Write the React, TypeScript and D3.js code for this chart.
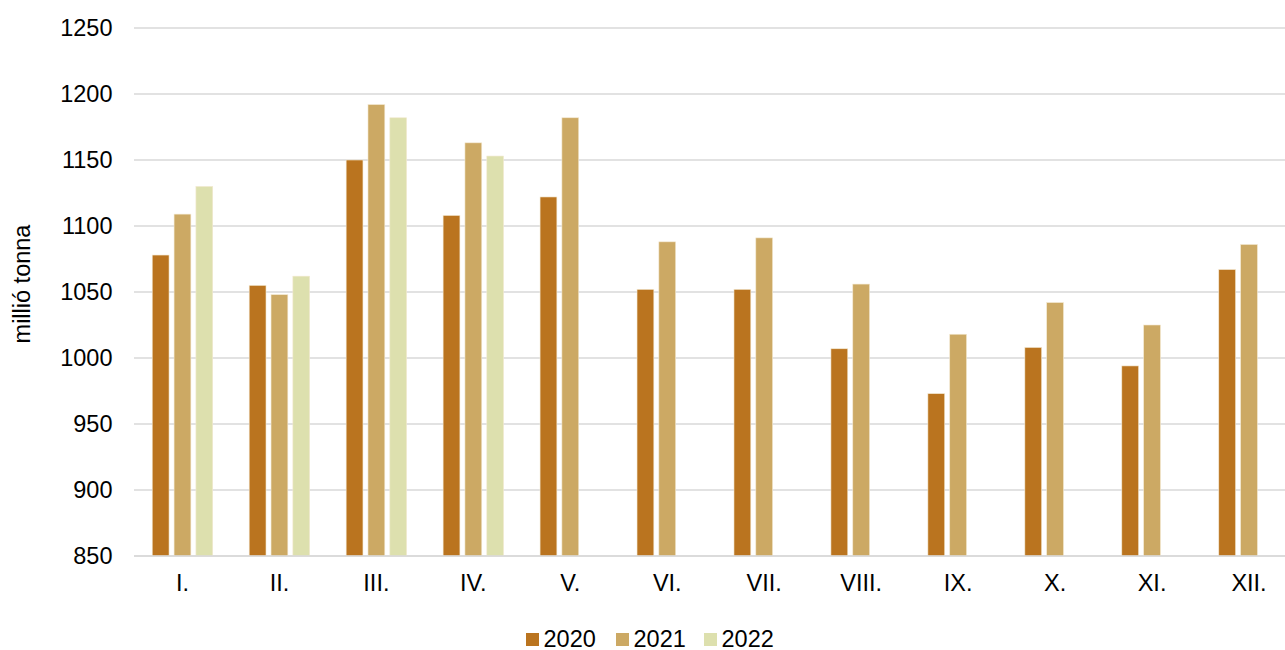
import React from "react";
import * as d3 from "d3";

const months = ["I.", "II.", "III.", "IV.", "V.", "VI.", "VII.", "VIII.", "IX.", "X.", "XI.", "XII."];
const seriesNames = ["2020", "2021", "2022"];
const values2020 = [1078, 1055, 1150, 1108, 1122, 1052, 1052, 1007, 973, 1008, 994, 1067];
const values2021 = [1109, 1048, 1192, 1163, 1182, 1088, 1091, 1056, 1018, 1042, 1025, 1086];
const values2022: (number | null)[] = [1130, 1062, 1182, 1153, null, null, null, null, null, null, null, null];
const yTicks = [850, 900, 950, 1000, 1050, 1100, 1150, 1200, 1250];
const colors = ["#BA741F", "#CCA964", "#DDE0AE"];

const W = 1285;
const H = 650;
const left = 134;
const bandRight = 1297.5;
const right = 1285;
const top = 28;
const bottom = 556;

export default function App() {
  const series = [values2020, values2021, values2022];
  const x = d3.scaleBand<string>().domain(months).range([left, bandRight]).paddingInner(0).paddingOuter(0);
  const groupW = 60.5;
  const inner = d3.scaleBand<string>().domain(seriesNames).range([0, groupW]).paddingInner(0.23);
  const y = d3.scaleLinear().domain([850, 1250]).range([bottom, top]);
  const groupOffset = (x.bandwidth() - groupW) / 2;
  const font = "'Liberation Sans', Arial, sans-serif";
  const fs = 23.5;

  return (
    <svg width={W} height={H} style={{ position: "absolute", left: 0, top: 0, background: "#fff" }}>
      {yTicks.map((t) => (
        <g key={t}>
          <line x1={left} x2={right} y1={y(t)} y2={y(t)} stroke="#d9d9d9" strokeWidth={1.5} />
          <text x={112.5} y={y(t)} dy="0.35em" textAnchor="end" fontFamily={font} fontSize={fs} fill="#000">
            {t}
          </text>
        </g>
      ))}
      {series.map((vals, si) =>
        vals.map((v, mi) =>
          v == null ? null : (
            <rect
              key={`${si}-${mi}`}
              x={(x(months[mi]) as number) + groupOffset + (inner(seriesNames[si]) as number)}
              y={y(v)}
              width={inner.bandwidth()}
              height={bottom - y(v)}
              fill={colors[si]}
              stroke="#f3e9d2"
              strokeWidth={0.6}
            />
          )
        )
      )}
      <line x1={left} x2={right} y1={bottom} y2={bottom} stroke="#d9d9d9" strokeWidth={1.5} />
      {months.map((m) => (
        <text
          key={m}
          x={(x(m) as number) + x.bandwidth() / 2}
          y={591}
          textAnchor="middle"
          fontFamily={font}
          fontSize={fs}
          fill="#000"
        >
          {m}
        </text>
      ))}
      <text
        transform={`translate(30, ${284}) rotate(-90)`}
        textAnchor="middle"
        fontFamily={font}
        fontSize={fs}
        fill="#000"
      >
        millió tonna
      </text>
      {seriesNames.map((s, i) => {
        const lx = [526, 616, 704][i];
        return (
          <g key={s}>
            <rect x={lx} y={633} width={13} height={13} fill={colors[i]} />
            <text x={lx + 17.5} y={646.5} fontFamily={font} fontSize={fs} fill="#000">
              {s}
            </text>
          </g>
        );
      })}
    </svg>
  );
}
